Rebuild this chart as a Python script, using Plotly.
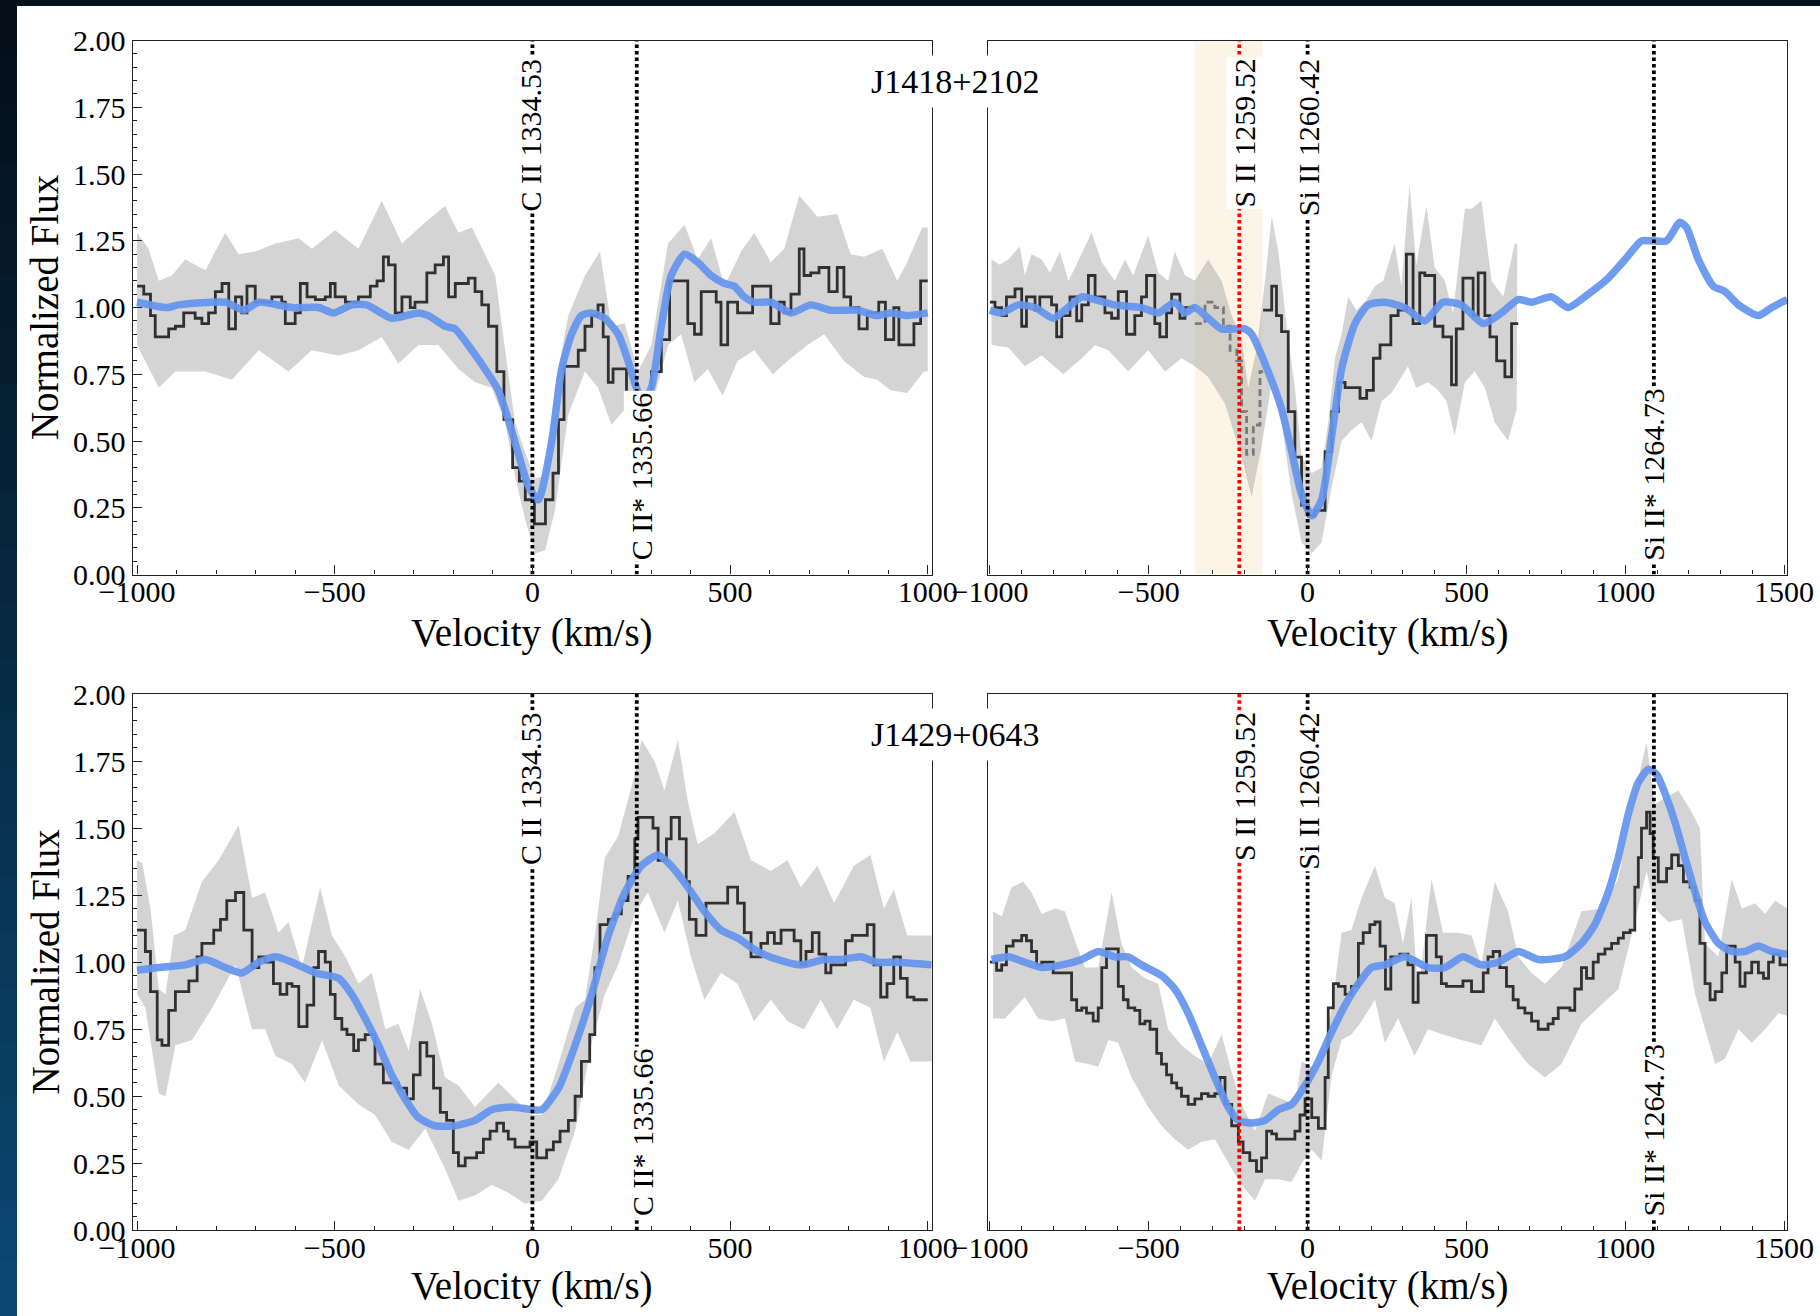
import plotly.graph_objects as go

# ======================= DATA =======================
# ---- J1418+2102, C II window (top-left) ----
TL_step_v = [-1000,-983,-966,-954,-920,-903,-882,-853,-836,-819,
             -802,-785,-768,-751,-735,-722,-701,-659,-634,-625,
             -600,-587,-570,-549,-524,-511,-499,-473,-440,-410,
             -393,-377,-364,-347,-330,-309,-297,-267,-246,-225,
             -212,-195,-162,-145,-128,-111,-90,-72,-50,-33,
             -18,5,33,52,66,80,116,133,150,166,
             179,192,204,238,262,285,301,326,347,393,
             410,427,465,477,494,519,557,603,624,637,
             654,675,687,704,725,750,771,788,805,826,
             847,876,893,914,927,965,982]
TL_step_f = [1.08,1.05,0.97,0.89,0.92,0.93,0.98,0.96,0.94,0.98,
             1.06,1.09,0.92,1.04,0.98,1.08,1.02,1.04,1.02,0.94,
             0.98,1.09,1.04,1.03,1.04,1.09,1.04,1.02,1.04,1.08,
             1.10,1.19,1.16,0.98,1.04,1.00,1.02,1.13,1.16,1.19,
             1.04,1.09,1.11,1.06,1.01,0.93,0.76,0.58,0.40,0.35,
             0.28,0.19,0.28,0.38,0.58,0.78,0.84,0.93,0.97,1.01,
             0.89,0.72,0.77,0.59,0.58,0.65,0.76,0.88,1.10,0.94,
             0.90,1.06,1.02,0.86,1.02,0.98,1.08,0.94,1.02,0.98,
             1.05,1.22,1.12,1.13,1.15,1.06,1.15,1.04,1.00,0.92,
             0.98,1.02,0.88,1.00,0.86,0.94,1.10]
TL_step_end = 1000
TL_model_v = [-1000,-924,-895,-777,-730,-692,-608,-541,-503,-457,
              -419,-356,-288,-263,-221,-196,-153,-120,-86,-61,
              -35,-10,15,49,74,99,124,150,183,217,
              242,263,280,301,326,351,385,418,452,486,
              511,536,561,603,654,704,755,822,872,906,
              948,1000]
TL_model_f = [1.02,1.00,1.01,1.02,0.99,1.02,1.00,1.00,0.98,1.01,
              1.01,0.96,0.98,0.97,0.93,0.92,0.84,0.77,0.69,0.58,
              0.45,0.33,0.28,0.50,0.77,0.90,0.97,0.98,0.96,0.90,
              0.80,0.70,0.65,0.70,0.93,1.12,1.20,1.17,1.12,1.09,
              1.08,1.04,1.02,1.02,0.98,1.01,0.99,0.99,0.97,0.98,
              0.97,0.98]
TL_hi_v = [-1000,-971,-945,-912,-878,-827,-777,-743,-701,-650,
           -591,-558,-499,-440,-381,-330,-271,-221,-187,-153,
           -120,-94,-69,-44,-19,7,32,57,91,133,
           171,200,234,267,301,343,385,418,452,486,
           528,561,603,637,675,721,771,805,839,885,
           923,948,986,1000]
TL_hi_f = [1.28,1.22,1.10,1.12,1.18,1.14,1.28,1.20,1.21,1.24,
           1.26,1.22,1.29,1.22,1.40,1.24,1.32,1.38,1.28,1.30,
           1.20,1.12,0.84,0.57,0.46,0.36,0.37,0.70,0.97,1.12,
           1.21,0.93,0.94,0.76,0.86,1.24,1.31,1.18,1.26,1.08,
           1.21,1.28,1.17,1.22,1.42,1.34,1.35,1.20,1.19,1.22,
           1.10,1.17,1.30,1.30]
TL_lo_v = [-1000,-945,-903,-827,-760,-692,-617,-558,-490,-440,
           -381,-339,-288,-238,-187,-145,-103,-69,-44,-19,
           7,32,57,91,133,166,200,234,267,301,
           343,376,410,444,481,519,561,608,645,696,
           738,788,839,872,906,948,990,1000]
TL_lo_f = [0.86,0.70,0.76,0.76,0.73,0.84,0.76,0.84,0.82,0.84,
           0.89,0.79,0.86,0.86,0.77,0.72,0.70,0.57,0.37,0.21,
           0.08,0.09,0.24,0.60,0.76,0.70,0.56,0.62,0.53,0.62,
           0.86,0.90,0.72,0.77,0.67,0.80,0.84,0.75,0.80,0.86,
           0.90,0.80,0.74,0.73,0.69,0.68,0.76,0.76]

# ---- J1418+2102, Si II window (top-right) ----
TR_step1_v = [-1000,-984,-963,-948,-921,-900,-885,-858,-843,-806,
              -790,-774,-748,-727,-711,-690,-669,-638,-617,-596,
              -570,-544,-523,-507,-481,-465,-444,-428,-402,-386]
TR_step1_f = [1.02,1.00,0.97,1.04,1.07,0.93,1.04,0.99,1.04,1.01,
              0.89,0.97,1.04,0.95,1.01,1.12,1.04,0.98,0.96,1.06,
              0.90,0.97,1.04,1.12,0.94,0.89,0.98,1.05,0.96,1.00]
TR_step1_end = -355
TR_masked_v = [-355,-323,-292,-265,-244,-223,-208,-192,-171,-150]
TR_masked_f = [0.94,1.02,1.00,0.93,0.84,0.80,0.61,0.45,0.56,0.76]
TR_masked_end = -140
TR_step2_v = [-140,-113,-98,-82,-61,-40,-19,2,23,55,
              76,97,118,165,186,207,228,262,285,311,
              332,353,369,400,426,453,468,489,521,537,
              558,574,595,621,642]
TR_step2_f = [0.99,1.08,0.97,0.91,0.61,0.44,0.26,0.22,0.24,0.46,
              0.61,0.72,0.70,0.66,0.69,0.81,0.86,0.97,0.99,1.20,
              0.94,1.13,1.12,0.93,0.89,0.71,0.92,1.11,0.97,1.13,
              0.97,0.89,0.80,0.74,0.94]
TR_step2_end = 663
TR_model_v = [-1000,-963,-911,-858,-801,-764,-711,-669,-607,-523,
              -470,-418,-386,-355,-313,-271,-197,-176,-124,-82,
              -50,-19,13,44,76,107,149,191,243,306,
              369,426,484,553,610,663,705,768,820,883,
              946,999,1051,1083,1130,1172,1193,1230,1277,1314,
              1356,1419,1461,1493,1510]
TR_model_f = [0.99,0.98,1.01,1.00,0.96,0.99,1.04,1.03,1.01,1.00,
              0.98,1.02,0.98,1.00,0.96,0.92,0.92,0.90,0.76,0.62,
              0.46,0.30,0.22,0.28,0.52,0.77,0.94,1.01,1.02,1.00,
              0.95,1.02,1.01,0.94,0.98,1.03,1.02,1.04,1.00,1.05,
              1.11,1.18,1.25,1.25,1.25,1.32,1.30,1.18,1.08,1.06,
              1.01,0.97,1.00,1.02,1.03]
TR_hi_v = [-995,-969,-942,-906,-890,-869,-837,-811,-780,-753,
           -732,-680,-648,-607,-575,-549,-502,-470,-439,-418,
           -386,-355,-313,-271,-239,-208,-187,-161,-134,-113,
           -92,-66,-40,-19,13,44,65,86,107,128,
           154,186,212,238,274,295,321,342,374,400,
           432,458,495,516,547,579,616,652,660]
TR_hi_f = [1.18,1.16,1.18,1.23,1.12,1.20,1.18,1.13,1.21,1.10,
           1.15,1.28,1.17,1.10,1.18,1.12,1.27,1.13,1.10,1.21,
           1.12,1.10,1.18,1.10,0.97,0.88,0.70,0.84,1.10,1.34,
           1.21,0.93,0.70,0.44,0.38,0.40,0.57,0.81,0.90,1.04,
           0.99,1.03,1.08,1.10,1.24,1.08,1.46,1.16,1.38,1.15,
           1.10,0.98,1.37,1.37,1.40,1.10,1.04,1.24,1.24]
TR_lo_v = [-995,-942,-890,-837,-769,-711,-669,-627,-565,-502,
           -449,-397,-355,-313,-260,-208,-176,-145,-113,-82,
           -50,-19,13,44,76,107,138,170,201,233,
           264,285,316,342,379,411,437,463,495,526,
           558,589,631,658]
TR_lo_f = [0.86,0.85,0.78,0.82,0.75,0.81,0.86,0.84,0.76,0.84,
           0.76,0.81,0.78,0.74,0.64,0.44,0.29,0.48,0.72,0.57,
           0.30,0.12,0.08,0.12,0.33,0.50,0.54,0.57,0.50,0.65,
           0.68,0.72,0.78,0.70,0.72,0.69,0.65,0.52,0.72,0.76,
           0.70,0.57,0.50,0.62]
TR_mask_window = [-355, -143]

# ---- J1429+0643, C II window (bottom-left) ----
BL_step_v = [-1000,-979,-966,-949,-937,-920,-903,-869,-848,-836,
             -806,-789,-773,-751,-730,-709,-692,-676,-655,-638,
             -621,-608,-591,-570,-553,-541,-524,-511,-499,-482,
             -469,-452,-440,-423,-398,-377,-339,-318,-301,-284,
             -267,-250,-233,-217,-200,-187,-170,-141,-124,-107,
             -90,-73,-61,-44,-6,11,36,53,70,91,
             108,124,145,158,171,192,208,225,242,259,
             267,305,318,339,351,372,389,397,414,439,
             494,519,536,553,578,595,612,629,662,679,
             692,708,725,742,755,792,809,847,864,881,
             897,914,931,948,965]
BL_step_f = [1.12,1.04,0.89,0.71,0.69,0.82,0.89,0.93,1.02,1.07,
             1.12,1.16,1.23,1.26,1.12,0.98,1.02,1.00,0.92,0.88,
             0.92,0.91,0.76,0.84,0.98,1.04,1.00,0.88,0.79,0.75,
             0.73,0.67,0.71,0.73,0.62,0.55,0.53,0.49,0.58,0.70,
             0.65,0.53,0.44,0.41,0.29,0.24,0.27,0.29,0.34,0.37,
             0.40,0.37,0.34,0.31,0.33,0.27,0.30,0.33,0.37,0.41,
             0.50,0.63,0.73,0.98,1.14,1.16,1.18,1.23,1.32,1.46,
             1.54,1.50,1.38,1.46,1.54,1.46,1.30,1.16,1.10,1.22,
             1.28,1.22,1.11,1.02,1.07,1.11,1.07,1.12,1.08,0.99,
             1.04,1.11,1.03,0.96,0.99,1.08,1.10,1.14,0.99,0.87,
             0.92,1.02,0.94,0.87,0.86]
BL_step_end = 1000
BL_model_v = [-1000,-945,-878,-827,-777,-735,-692,-650,-608,-549,
              -490,-457,-423,-389,-356,-322,-288,-246,-195,-145,
              -103,-52,-2,24,66,108,150,192,234,276,
              318,351,393,435,477,519,570,620,679,738,
              780,830,872,923,1010]
BL_model_f = [0.97,0.98,0.99,1.01,0.98,0.96,1.00,1.02,1.00,0.96,
              0.94,0.88,0.79,0.69,0.58,0.49,0.42,0.39,0.39,0.41,
              0.45,0.46,0.45,0.45,0.53,0.69,0.88,1.10,1.26,1.36,
              1.40,1.36,1.28,1.19,1.12,1.09,1.04,1.01,0.99,1.01,
              1.01,1.02,1.00,1.00,0.99]
BL_hi_v = [-1000,-987,-966,-945,-928,-907,-878,-836,-794,-743,
           -709,-676,-642,-617,-583,-537,-507,-473,-440,-406,
           -372,-339,-313,-284,-254,-221,-187,-145,-86,-44,
           -2,24,66,108,133,158,183,217,259,276,
           309,334,368,393,418,460,511,553,603,645,
           679,721,763,813,855,889,914,948,998,1010]
BL_hi_f = [1.38,1.37,1.20,0.90,0.88,1.10,1.12,1.30,1.38,1.51,
           1.24,1.26,1.11,1.15,0.98,1.28,1.10,1.02,0.92,0.96,
           0.75,0.77,0.67,0.90,0.77,0.57,0.54,0.46,0.55,0.49,
           0.43,0.43,0.62,0.83,0.86,1.10,1.39,1.47,1.70,1.83,
           1.75,1.64,1.83,1.60,1.44,1.48,1.56,1.38,1.34,1.38,
           1.28,1.36,1.22,1.36,1.40,1.20,1.27,1.10,1.10,1.10]
BL_lo_v = [-1000,-979,-945,-928,-903,-861,-810,-751,-709,-676,
           -650,-608,-575,-532,-490,-440,-398,-356,-313,-271,
           -221,-187,-145,-103,-61,-19,24,66,108,150,
           183,217,259,292,334,368,401,435,477,519,
           561,603,645,687,729,771,813,855,889,923,
           956,998,1010]
BL_lo_f = [0.88,0.83,0.51,0.50,0.69,0.71,0.83,0.99,0.75,0.75,
           0.65,0.62,0.55,0.71,0.54,0.47,0.43,0.33,0.30,0.38,
           0.23,0.11,0.13,0.17,0.14,0.10,0.11,0.19,0.37,0.70,
           0.88,0.99,1.18,1.26,1.11,1.23,1.02,0.86,0.96,0.92,
           0.78,0.86,0.78,0.75,0.86,0.75,0.86,0.83,0.63,0.74,
           0.63,0.63,0.63]

# ---- J1429+0643, Si II window (bottom-right) ----
BR_step_v = [-1000,-979,-963,-948,-927,-900,-885,-869,-853,-837,
             -801,-743,-727,-711,-696,-675,-659,-648,-633,-596,
             -580,-565,-544,-528,-512,-496,-475,-460,-444,-428,
             -412,-397,-376,-355,-334,-313,-292,-276,-260,-239,
             -218,-203,-182,-161,-145,-129,-113,-98,-40,-24,
             -8,13,34,55,65,81,97,118,138,160,
             175,196,212,228,245,262,290,316,332,348,
             374,405,421,437,489,516,553,568,584,605,
             626,647,663,684,705,726,757,773,789,810,
             826,841,862,878,899,915,936,957,978,994,
             1015,1030,1041,1051,1067,1078,1088,1104,1130,1146,
             1167,1183,1204,1220,1235,1251,1267,1283,1304,1319,
             1346,1361,1377,1398,1419,1435,1451,1466,1487]
BR_step_f = [1.00,0.97,0.99,1.06,1.08,1.10,1.08,1.04,0.99,1.00,
             0.96,0.86,0.82,0.83,0.81,0.78,0.83,0.98,1.05,0.91,
             0.86,0.83,0.82,0.77,0.78,0.75,0.66,0.62,0.58,0.55,
             0.53,0.50,0.47,0.49,0.51,0.50,0.51,0.57,0.47,0.39,
             0.33,0.29,0.26,0.22,0.27,0.37,0.36,0.34,0.37,0.43,
             0.49,0.42,0.38,0.57,0.83,0.92,0.91,0.88,0.91,1.07,
             1.11,1.14,1.15,1.06,0.90,1.02,1.03,0.99,0.85,0.96,
             1.10,1.02,0.92,0.91,0.93,0.89,0.96,1.02,1.04,0.98,
             0.91,0.86,0.83,0.81,0.78,0.75,0.77,0.79,0.83,0.83,
             0.82,0.90,0.98,0.94,1.00,1.03,1.05,1.07,1.09,1.11,
             1.12,1.28,1.39,1.50,1.56,1.48,1.39,1.30,1.35,1.40,
             1.36,1.30,1.28,1.23,1.07,0.92,0.86,0.89,0.96,1.06,
             1.00,0.91,0.96,1.00,0.96,0.94,1.00,1.03,0.99]
BR_step_end = 1510
BR_model_v = [-995,-942,-890,-837,-774,-711,-659,-607,-565,-523,
              -460,-418,-376,-334,-292,-250,-218,-176,-134,-92,
              -50,-8,34,76,118,160,201,243,306,379,
              432,489,547,600,663,726,810,862,904,946,
              978,1009,1041,1073,1099,1125,1157,1188,1220,1251,
              1293,1335,1377,1419,1461,1510]
BR_model_f = [1.01,1.02,1.00,0.98,0.99,1.01,1.04,1.02,1.02,0.99,
              0.95,0.90,0.81,0.69,0.57,0.46,0.41,0.40,0.41,0.45,
              0.47,0.54,0.63,0.74,0.84,0.92,0.98,0.99,1.02,0.98,
              0.98,1.02,0.99,1.00,1.04,1.01,1.02,1.07,1.14,1.26,
              1.39,1.55,1.67,1.72,1.70,1.63,1.52,1.39,1.26,1.15,
              1.07,1.04,1.04,1.06,1.04,1.03]
BR_hi_v = [-990,-963,-932,-895,-869,-837,-795,-764,-738,-701,
           -659,-617,-586,-554,-512,-470,-439,-397,-355,-313,
           -271,-239,-208,-166,-124,-82,-40,-19,13,44,
           76,107,138,170,212,243,274,300,327,348,
           390,426,474,516,547,589,631,663,705,747,
           799,862,925,978,1030,1067,1093,1136,1167,1209,
           1235,1251,1293,1335,1367,1409,1440,1472,1510]
BR_hi_f = [1.19,1.17,1.28,1.30,1.26,1.18,1.20,1.19,1.10,0.98,
           0.98,1.26,1.07,0.98,0.94,0.92,0.75,0.69,0.65,0.62,
           0.73,0.59,0.47,0.37,0.51,0.49,0.47,0.63,0.61,0.63,
           0.83,1.11,1.12,1.24,1.36,1.24,1.22,1.07,1.24,0.88,
           1.31,1.11,1.11,1.10,0.99,1.30,1.19,1.02,0.96,0.92,
           0.98,1.19,1.20,1.31,1.63,1.82,1.59,1.62,1.64,1.56,
           1.50,1.07,1.02,1.31,1.20,1.22,1.18,1.23,1.20]
BR_lo_v = [-990,-953,-921,-890,-848,-806,-764,-732,-690,-659,
           -627,-596,-554,-502,-460,-418,-376,-334,-292,-239,
           -208,-166,-134,-92,-50,-19,13,44,76,107,
           138,170,212,243,285,337,379,426,484,547,
           589,642,694,747,799,862,915,978,1030,1067,
           1093,1136,1178,1220,1251,1283,1314,1356,1398,1440,
           1482,1510]
BR_lo_f = [0.79,0.79,0.83,0.87,0.79,0.78,0.79,0.63,0.62,0.61,
           0.71,0.70,0.57,0.46,0.39,0.34,0.30,0.33,0.34,0.23,
           0.17,0.11,0.19,0.19,0.18,0.25,0.30,0.26,0.58,0.71,
           0.73,0.78,0.86,0.70,0.79,0.65,0.75,0.73,0.71,0.69,
           0.79,0.70,0.62,0.57,0.62,0.77,0.83,0.90,1.15,1.34,
           1.20,1.15,1.16,0.88,0.75,0.62,0.64,0.75,0.70,0.75,
           0.81,0.80]

# ---- transition markers and labels ----
CII_lines_v = [0, 264]
CII_labels = ["C II 1334.53", "C II* 1335.66"]
SiII_lines_v = [-215, 0, 1090]
SiII_labels = ["S II 1259.52", "Si II 1260.42", "Si II* 1264.73"]
targets = ["J1418+2102", "J1429+0643"]

xticks_left = [-1000, -500, 0, 500, 1000]
xticks_right = [-1000, -500, 0, 500, 1000, 1500]
yticks = [0.0, 0.25, 0.5, 0.75, 1.0, 1.25, 1.5, 1.75, 2.0]

# ======================= FIGURE =======================
W, H = 1820, 1316
SERIF = "Liberation Serif"
INK = "#222222"

fig = go.Figure()


def band_trace(xa, ya, hv, hf, lv, lf):
    bx = list(hv) + list(lv)[::-1]
    by = list(hf) + list(lf)[::-1]
    fig.add_trace(go.Scatter(x=bx, y=by, mode="lines", fill="toself",
                             fillcolor="rgba(165,165,165,0.48)",
                             line=dict(width=0), hoverinfo="skip",
                             showlegend=False, xaxis=xa, yaxis=ya))


def step_trace(xa, ya, sv, sf, send, color="#303030", dash="solid"):
    n = min(len(sv), len(sf))
    x = list(sv[:n]) + [send]
    y = list(sf[:n]) + [sf[n - 1]]
    fig.add_trace(go.Scatter(x=x, y=y, mode="lines",
                             line=dict(shape="hv", width=2.8, color=color, dash=dash),
                             showlegend=False, xaxis=xa, yaxis=ya))


def model_trace(xa, ya, mv, mf):
    fig.add_trace(go.Scatter(x=mv, y=mf, mode="lines",
                             line=dict(shape="spline", smoothing=0.6, width=7.5,
                                       color="rgba(100,149,237,0.93)"),
                             showlegend=False, xaxis=xa, yaxis=ya))


def vline_traces(xa, ya, lines_v, colors):
    for v, c in zip(lines_v, colors):
        fig.add_trace(go.Scatter(x=[v, v], y=[0, 2], mode="lines",
                                 line=dict(color=c, width=3.8, dash="3.5px,3px"),
                                 showlegend=False, xaxis=xa, yaxis=ya))


# Top-left
band_trace("x", "y", TL_hi_v, TL_hi_f, TL_lo_v, TL_lo_f)
step_trace("x", "y", TL_step_v, TL_step_f, TL_step_end)
model_trace("x", "y", TL_model_v, TL_model_f)
vline_traces("x", "y", CII_lines_v, ["black", "black"])

# Top-right
band_trace("x2", "y2", TR_hi_v, TR_hi_f, TR_lo_v, TR_lo_f)
step_trace("x2", "y2", TR_step1_v, TR_step1_f, TR_step1_end)
step_trace("x2", "y2", TR_masked_v, TR_masked_f, TR_masked_end, color="#7a7a7a", dash="7px,4px")
step_trace("x2", "y2", TR_step2_v, TR_step2_f, TR_step2_end)
model_trace("x2", "y2", TR_model_v, TR_model_f)
vline_traces("x2", "y2", SiII_lines_v, ["red", "black", "black"])

# Bottom-left
band_trace("x3", "y3", BL_hi_v, BL_hi_f, BL_lo_v, BL_lo_f)
step_trace("x3", "y3", BL_step_v, BL_step_f, BL_step_end)
model_trace("x3", "y3", BL_model_v, BL_model_f)
vline_traces("x3", "y3", CII_lines_v, ["black", "black"])

# Bottom-right
band_trace("x4", "y4", BR_hi_v, BR_hi_f, BR_lo_v, BR_lo_f)
step_trace("x4", "y4", BR_step_v, BR_step_f, BR_step_end)
model_trace("x4", "y4", BR_model_v, BR_model_f)
vline_traces("x4", "y4", SiII_lines_v, ["red", "black", "black"])

# ---- axes ----
LX = [132.7 / W, 931.7 / W]
RX = [987.7 / W, 1787.3 / W]
TY = [1 - 574.5 / H, 1 - 40.6 / H]
BY = [1 - 1230.3 / H, 1 - 694.1 / H]

tickfont = dict(family=SERIF, size=30, color="black")


def xaxis(dom, rng, anchor, tickvals):
    return dict(domain=dom, range=rng, anchor=anchor, showline=True, linecolor=INK,
                linewidth=1.4, mirror=True, ticks="inside", ticklen=9, tickwidth=1.3,
                tickcolor=INK, tickvals=tickvals, showgrid=False, zeroline=False,
                tickfont=tickfont, ticklabelstandoff=-10,
                minor=dict(dtick=100, tick0=0, ticks="inside", ticklen=4.5,
                           tickwidth=1.1, tickcolor=INK, showgrid=False))


def yaxis(dom, anchor, labels):
    d = dict(domain=dom, range=[0, 2], anchor=anchor, showline=True, linecolor=INK,
             linewidth=1.4, mirror=True, showgrid=False, zeroline=False)
    if labels:
        d.update(ticks="inside", ticklen=9, tickwidth=1.3, tickcolor=INK,
                 tickvals=yticks, tickformat=".2f", tickfont=tickfont,
                 minor=dict(dtick=0.05, tick0=0, ticks="inside", ticklen=4.5,
                            tickwidth=1.1, tickcolor=INK, showgrid=False))
    else:
        d.update(ticks="", showticklabels=False)
    return d


fig.update_layout(
    xaxis=xaxis(LX, [-1011, 1010], "y", xticks_left),
    yaxis=yaxis(TY, "x", True),
    xaxis2=xaxis(RX, [-1007, 1510], "y2", xticks_right),
    yaxis2=yaxis(TY, "x2", False),
    xaxis3=xaxis(LX, [-1011, 1010], "y3", xticks_left),
    yaxis3=yaxis(BY, "x3", True),
    xaxis4=xaxis(RX, [-1007, 1510], "y4", xticks_right),
    yaxis4=yaxis(BY, "x4", False),
)

# ---- shapes: masked window and page border ----
shapes = [dict(type="rect", xref="x2", yref="y2", x0=TR_mask_window[0], x1=TR_mask_window[1],
               y0=0, y1=2, fillcolor="rgba(245,225,185,0.34)", line=dict(width=0), layer="below")]
shapes.append(dict(type="rect", xref="paper", yref="paper", x0=0, x1=1, y0=1 - 6 / H, y1=1,
                   fillcolor="#06111b", line=dict(width=0), layer="above"))
nseg = 24
c_top = (5, 15, 25)
c_bot = (10, 72, 114)
for i in range(nseg):
    t = i / (nseg - 1)
    col = tuple(int(c_top[k] + (c_bot[k] - c_top[k]) * t) for k in range(3))
    y1 = 1 - i / nseg
    y0 = 1 - (i + 1) / nseg
    shapes.append(dict(type="rect", xref="paper", yref="paper", x0=0, x1=17 / W,
                       y0=y0 - 0.001, y1=y1, fillcolor="rgb(%d,%d,%d)" % col,
                       line=dict(width=0), layer="above"))

# ---- annotations ----
ann = []
lab_font = dict(family=SERIF, size=30, color="black")


def line_label(xa, ya, v, text, top, shift):
    ann.append(dict(x=v, y=1.94 if top else 0.045, xref=xa, yref=ya, text=text,
                    textangle=-90, showarrow=False, xanchor="center",
                    yanchor="top" if top else "bottom", bgcolor="white",
                    borderpad=1, font=lab_font, xshift=shift))


for xa, ya in [("x", "y"), ("x3", "y3")]:
    line_label(xa, ya, CII_lines_v[0], CII_labels[0], True, -2)
    line_label(xa, ya, CII_lines_v[1], CII_labels[1], False, 5)
for xa, ya in [("x2", "y2"), ("x4", "y4")]:
    line_label(xa, ya, SiII_lines_v[0], SiII_labels[0], True, 5)
    line_label(xa, ya, SiII_lines_v[1], SiII_labels[1], True, 1)
    line_label(xa, ya, SiII_lines_v[2], SiII_labels[2], False, 0)

for name, yc in zip(targets, [81.5, 735.0]):
    ann.append(dict(x=954.5 / W, y=1 - yc / H, xref="paper", yref="paper", text=name,
                    showarrow=False, xanchor="center", yanchor="middle", bgcolor="white",
                    borderpad=7, font=dict(family=SERIF, size=34, color="black")))

title_font = dict(family=SERIF, size=39, color="black")
for yc in [307.6, 962.0]:
    ann.append(dict(x=44.5 / W, y=1 - yc / H, xref="paper", yref="paper",
                    text="Normalized Flux", textangle=-90, showarrow=False,
                    xanchor="center", yanchor="middle", font=title_font))
for yc in [632.6, 1286.0]:
    for xc in [532.2, 1387.5]:
        ann.append(dict(x=xc / W, y=1 - yc / H, xref="paper", yref="paper",
                        text="Velocity (km/s)", showarrow=False,
                        xanchor="center", yanchor="middle", font=title_font))

fig.update_layout(
    width=W, height=H, autosize=False,
    margin=dict(l=0, r=0, t=0, b=0, pad=0, autoexpand=False),
    paper_bgcolor="white", plot_bgcolor="white",
    showlegend=False, shapes=shapes, annotations=ann,
    font=dict(family=SERIF, color="black"),
)

fig.write_html("out.html")
